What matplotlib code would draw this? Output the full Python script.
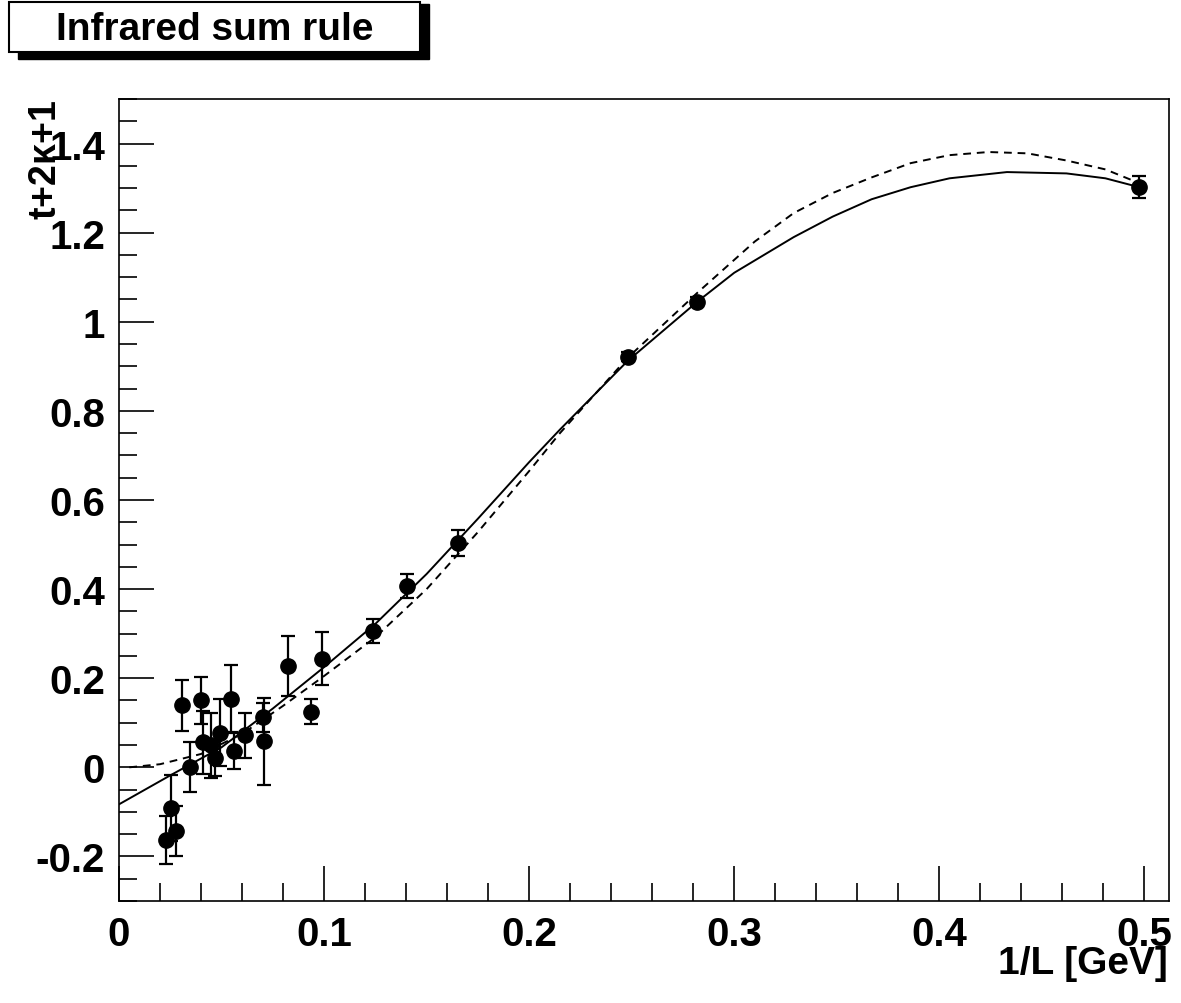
import matplotlib
matplotlib.use('Agg')
import matplotlib.pyplot as plt
from matplotlib.ticker import MultipleLocator
from matplotlib.patches import Rectangle

plt.rcParams.update({'font.family': 'Liberation Sans', 'font.weight': 'bold'})

# data points
x_pts = [0.0229, 0.0254, 0.0278, 0.0307, 0.0346, 0.0400, 0.0410, 0.0449, 0.0468,
         0.0493, 0.0546, 0.0561, 0.0615, 0.0702, 0.0707, 0.0824, 0.0937, 0.0990,
         0.1239, 0.1405, 0.1654, 0.2483, 0.2820, 0.4976]
y_pts = [-0.163, -0.091, -0.143, 0.139, 0.000, 0.150, 0.056, 0.049, 0.020,
         0.078, 0.154, 0.036, 0.072, 0.112, 0.058, 0.228, 0.125, 0.244,
         0.306, 0.407, 0.503, 0.922, 1.045, 1.302]
y_err = [0.054, 0.074, 0.056, 0.058, 0.056, 0.052, 0.070, 0.074, 0.040,
         0.075, 0.075, 0.040, 0.050, 0.033, 0.098, 0.067, 0.028, 0.059,
         0.028, 0.026, 0.029, 0.010, 0.010, 0.025]

# solid curve
x_solid = [0.0, 0.025, 0.05, 0.075, 0.1, 0.125, 0.15, 0.175, 0.2, 0.215, 0.248,
           0.282, 0.300, 0.329, 0.348, 0.367, 0.386, 0.405, 0.433, 0.462, 0.481, 0.4976]
y_solid = [-0.083, -0.018, 0.045, 0.132, 0.225, 0.322, 0.434, 0.558, 0.685, 0.758, 0.912,
           1.045, 1.110, 1.190, 1.236, 1.275, 1.302, 1.322, 1.336, 1.333, 1.322, 1.302]
# dashed curve
x_dash = [0.005, 0.02, 0.04, 0.06, 0.08, 0.1, 0.125, 0.15, 0.175, 0.2, 0.215, 0.248,
          0.282, 0.310, 0.329, 0.348, 0.367, 0.386, 0.405, 0.424, 0.443, 0.462, 0.481, 0.4976]
y_dash = [0.0, 0.007, 0.030, 0.075, 0.138, 0.205, 0.292, 0.400, 0.528, 0.665, 0.750, 0.919,
          1.065, 1.180, 1.244, 1.289, 1.324, 1.356, 1.374, 1.381, 1.378, 1.362, 1.342, 1.311]

fig = plt.figure(figsize=(11.81, 10.04), dpi=100)
ax = fig.add_axes([0.1008, 0.1016, 0.889, 0.7988])

ax.plot(x_solid, y_solid, color='black', lw=1.4)
ax.plot(x_dash, y_dash, color='black', lw=1.4, ls=(0, (4, 3)))
ax.errorbar(x_pts, y_pts, yerr=y_err, fmt='o', color='black', ms=11,
            elinewidth=1.6, capsize=5, capthick=1.6)

ax.set_xlim(0, 0.512)
ax.set_ylim(-0.3, 1.5)
ax.xaxis.set_minor_locator(MultipleLocator(0.02))
ax.yaxis.set_minor_locator(MultipleLocator(0.05))
ax.set_xticks([0, 0.1, 0.2, 0.3, 0.4, 0.5])
ax.set_xticklabels(['0', '0.1', '0.2', '0.3', '0.4', '0.5'])
ax.set_yticks([-0.2, 0, 0.2, 0.4, 0.6, 0.8, 1, 1.2, 1.4])
ax.set_yticklabels(['-0.2', '0', '0.2', '0.4', '0.6', '0.8', '1', '1.2', '1.4'])
ax.tick_params(which='both', direction='in', top=False, right=False,
               labelsize=29, width=1.2)
ax.tick_params(which='major', length=25, pad=10)
ax.tick_params(which='minor', length=13)
for lab in ax.get_xticklabels() + ax.get_yticklabels():
    lab.set_fontweight('bold')
for s in ax.spines.values():
    s.set_linewidth(1.2)

fig.text(0.989, 0.022, '1/L [GeV]', ha='right', va='bottom', fontsize=28, fontweight='bold')
fig.text(0.024, 0.9, r't+2$\mathregular{\kappa}$+1', rotation=90, ha='left', va='top',
         fontsize=27, fontweight='bold')

# title box with shadow
fig.patches.append(Rectangle((0.015, 0.940), 0.348, 0.055, transform=fig.transFigure,
                             facecolor='black', edgecolor='black'))
fig.patches.append(Rectangle((0.008, 0.947), 0.348, 0.05, transform=fig.transFigure,
                             facecolor='white', edgecolor='black', lw=1.5))
fig.text(0.182, 0.9705, 'Infrared sum rule', ha='center', va='center',
         fontsize=28, fontweight='bold')

fig.savefig('out.png')
